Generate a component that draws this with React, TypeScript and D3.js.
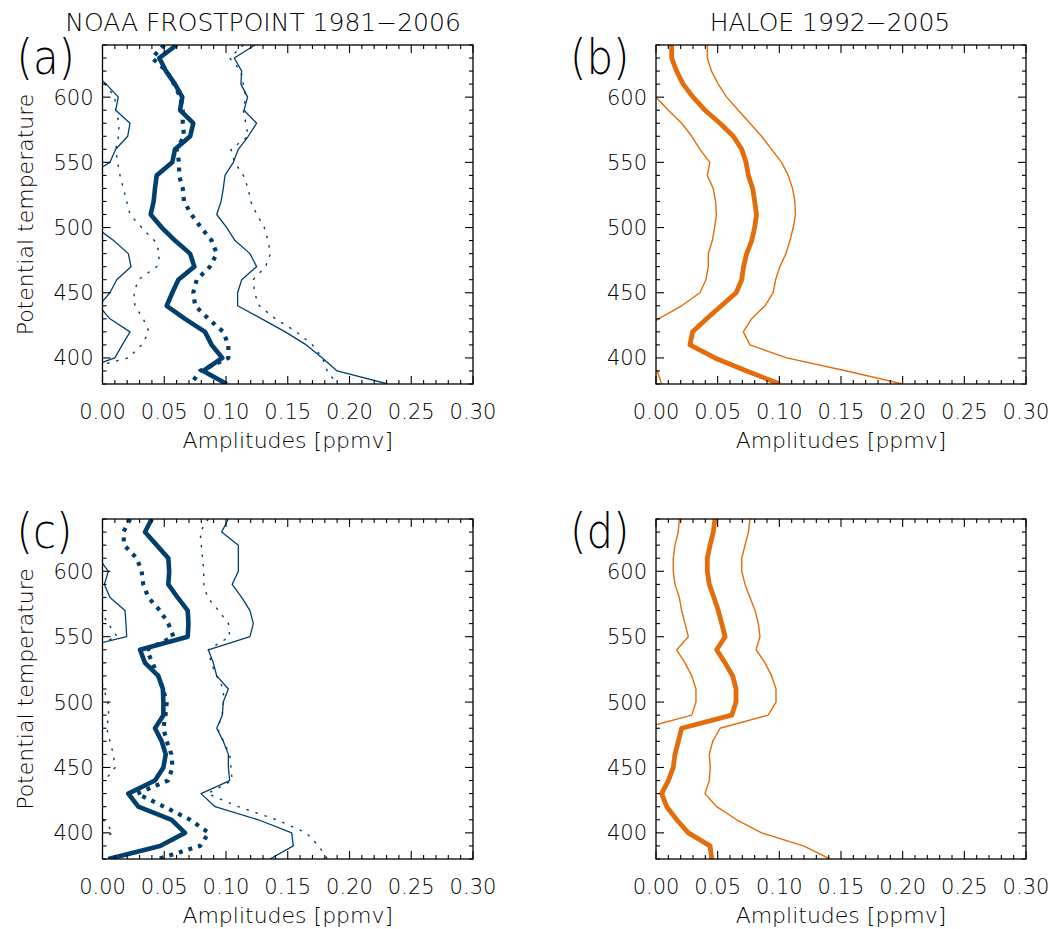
import React from 'react';
import * as d3 from 'd3';

// Potential temperature levels (K), top to bottom
const levels = [640, 630, 620, 610, 600, 590, 580, 570, 560, 550, 540, 530, 520, 510, 500, 490, 480, 470, 460, 450, 440, 430, 420, 410, 400, 390, 380];

const xTickLabels = ['0.00', '0.05', '0.10', '0.15', '0.20', '0.25', '0.30'];
const yTickLabels = [400, 450, 500, 550, 600];

// Panel (a) NOAA frostpoint
const aThick = [0.060, 0.046, 0.0514, 0.0587, 0.0646, 0.0628, 0.0735, 0.071, 0.0587, 0.0565, 0.0439, 0.0425, 0.0414, 0.039, 0.048, 0.0587, 0.0709, 0.0744, 0.0614, 0.0565, 0.052, 0.0668, 0.083, 0.0884, 0.097, 0.0816, 0.1006];
const aHi = [0.1235, 0.1067, 0.1127, 0.1121, 0.1175, 0.1146, 0.1248, 0.118, 0.11, 0.1059, 0.0992, 0.0978, 0.096, 0.0925, 0.1006, 0.1073, 0.1194, 0.1248, 0.1127, 0.1094, 0.1094, 0.129, 0.148, 0.165, 0.178, 0.19, 0.231];
const aLo = [-0.003, -0.015, -0.010, 0.003, 0.0128, 0.0107, 0.0223, 0.0204, 0.0107, 0.006, -0.011, -0.013, -0.013, -0.0145, -0.005, 0.009, 0.0209, 0.0231, 0.0115, 0.006, -0.003, 0.006, 0.0223, 0.016, 0.010, -0.02, -0.03];
const aThickDot = [0.050, 0.040, 0.052, 0.058, 0.063, 0.065, 0.065, 0.066, 0.060, 0.062, 0.062, 0.065, 0.066, 0.072, 0.0798, 0.0884, 0.0925, 0.087, 0.0763, 0.0735, 0.075, 0.0857, 0.0978, 0.1019, 0.1019, 0.079, 0.0717];
const aDotHi = [0.114, 0.103, 0.112, 0.114, 0.116, 0.114, 0.116, 0.118, 0.104, 0.107, 0.114, 0.118, 0.120, 0.125, 0.131, 0.134, 0.136, 0.132, 0.122, 0.123, 0.127, 0.14, 0.157, 0.17, 0.178, 0.182, 0.19];
const aDotLo = [-0.014, -0.023, -0.008, 0.002, 0.0101, 0.0107, 0.0134, 0.013, 0.0107, 0.0123, 0.0142, 0.0169, 0.0196, 0.0223, 0.0317, 0.042, 0.0466, 0.0439, 0.029, 0.0255, 0.0263, 0.033, 0.0377, 0.0317, 0.0209, -0.02, -0.045];

// Panel (b) HALOE
const bThick = [0.0127, 0.0127, 0.0167, 0.022, 0.030, 0.0397, 0.0519, 0.0627, 0.0695, 0.073, 0.0749, 0.0784, 0.080, 0.0815, 0.080, 0.0776, 0.0735, 0.071, 0.0695, 0.065, 0.053, 0.041, 0.0297, 0.0275, 0.0478, 0.0735, 0.1004];
const bHi = [0.0416, 0.0416, 0.045, 0.0505, 0.0573, 0.0667, 0.0762, 0.0856, 0.0937, 0.1018, 0.1072, 0.1107, 0.1126, 0.1131, 0.1113, 0.1086, 0.1054, 0.1004, 0.097, 0.095, 0.0884, 0.0775, 0.0708, 0.0762, 0.106, 0.1546, 0.2];
const bLo = [-0.016, -0.016, -0.012, -0.006, 0.0, 0.010, 0.0208, 0.029, 0.0356, 0.0437, 0.0416, 0.0464, 0.0483, 0.049, 0.0475, 0.0457, 0.0424, 0.0424, 0.0405, 0.0356, 0.0208, 0.002, -0.011, -0.021, -0.011, 0.001, 0.0046];

// Panel (c) NOAA frostpoint
const cThick = [0.0398, 0.0344, 0.0439, 0.0533, 0.054, 0.0533, 0.0608, 0.069, 0.0696, 0.069, 0.0304, 0.0344, 0.0452, 0.0489, 0.0493, 0.0493, 0.0425, 0.0479, 0.0512, 0.0493, 0.0425, 0.0209, 0.029, 0.056, 0.0668, 0.0466, 0.0047];
const cHi = [0.1019, 0.0965, 0.11, 0.11, 0.11, 0.105, 0.1127, 0.1194, 0.1221, 0.1194, 0.0857, 0.0897, 0.0925, 0.1019, 0.0978, 0.097, 0.0925, 0.0978, 0.1019, 0.1019, 0.103, 0.0798, 0.0911, 0.1262, 0.1532, 0.1545, 0.1356];
const cLo = [-0.022, -0.028, -0.022, -0.003, 0.0047, 0.0015, 0.0061, 0.0182, 0.019, 0.0196, -0.025, -0.021, -0.004, -0.005, -0.004, -0.004, -0.008, -0.004, -0.004, -0.004, -0.018, -0.038, -0.033, -0.014, -0.02, -0.06, -0.126];
const cThickDot = [0.0223, 0.0169, 0.0175, 0.0277, 0.0317, 0.033, 0.0371, 0.0466, 0.0533, 0.0574, 0.0358, 0.0404, 0.045, 0.049, 0.052, 0.051, 0.0493, 0.052, 0.0558, 0.0567, 0.053, 0.028, 0.05, 0.071, 0.086, 0.079, 0.045];
const cDotHi = [0.0857, 0.079, 0.080, 0.081, 0.082, 0.082, 0.085, 0.094, 0.102, 0.103, 0.0857, 0.088, 0.0925, 0.098, 0.098, 0.097, 0.093, 0.098, 0.103, 0.104, 0.105, 0.085, 0.11, 0.141, 0.165, 0.175, 0.182];
const cDotLo = [-0.041, -0.045, -0.045, -0.026, -0.019, -0.016, -0.011, -0.002, 0.0047, 0.0118, -0.014, -0.007, -0.002, 0.001, 0.0044, 0.005, 0.0034, 0.0061, 0.0088, 0.0101, 0.002, -0.03, -0.01, 0.0007, 0.0088, -0.017, -0.09];

// Panel (d) HALOE
const dThick = [0.0478, 0.0465, 0.0438, 0.0416, 0.0416, 0.0432, 0.047, 0.0505, 0.0533, 0.056, 0.0492, 0.056, 0.0622, 0.0649, 0.0649, 0.0614, 0.0208, 0.0181, 0.0154, 0.014, 0.010, 0.0046, 0.0087, 0.0168, 0.0262, 0.0438, 0.0452];
const dHi = [0.0762, 0.0749, 0.0722, 0.0695, 0.0695, 0.0722, 0.0762, 0.0803, 0.083, 0.0843, 0.0811, 0.0884, 0.0938, 0.0973, 0.0973, 0.091, 0.0519, 0.046, 0.0432, 0.044, 0.0432, 0.0397, 0.0492, 0.0654, 0.0857, 0.1195, 0.141];
const dLo = [0.0189, 0.018, 0.0154, 0.014, 0.014, 0.0154, 0.0189, 0.0208, 0.0235, 0.0262, 0.0168, 0.0235, 0.029, 0.0324, 0.0324, 0.029, -0.0103, -0.0098, -0.0124, -0.016, -0.023, -0.0305, -0.032, -0.032, -0.033, -0.032, -0.05];

const BLUE = '#003f6e';
const ORANGE = '#e46c0a';
const FONT = "'DejaVu Sans', sans-serif";
const FW = 200;

type Series = { values: number[]; color: string; width: number; dash?: string };

type PanelProps = {
  id: string;
  left: number;
  top: number;
  width: number;
  height: number;
  label: string;
  series: Series[];
  showYTitle: boolean;
};

function Panel({ id, left, top, width, height, label, series, showYTitle }: PanelProps) {
  const x = d3.scaleLinear().domain([0, 0.3]).range([0, width]);
  const y = d3.scaleLinear().domain([380, 640]).range([height, 0]);
  const line = d3
    .line<number>()
    .x((v) => x(v))
    .y((_, i) => y(levels[i]));

  const xTicks = d3.range(0, 31).map((k) => k / 100);
  const yTicks = d3.range(380, 641, 10);
  const clipId = `clip-${id}`;

  return (
    <g transform={`translate(${left},${top})`}>
      <defs>
        <clipPath id={clipId}>
          <rect x={0} y={0} width={width} height={height} />
        </clipPath>
      </defs>
      <g clipPath={`url(#${clipId})`}>
        {series.map((s, i) => (
          <path
            key={i}
            d={line(s.values) || ''}
            fill="none"
            stroke={s.color}
            strokeWidth={s.width}
            strokeDasharray={s.dash}
            strokeLinejoin="round"
          />
        ))}
      </g>
      <rect x={0} y={0} width={width} height={height} fill="none" stroke="#000" strokeWidth={1.3} />
      {xTicks.map((t, i) => {
        const major = i % 5 === 0;
        const len = major ? 8 : 4;
        const xx = x(t);
        return (
          <g key={`xt${i}`} stroke="#000" strokeWidth={1.1}>
            <line x1={xx} x2={xx} y1={height} y2={height - len} />
            <line x1={xx} x2={xx} y1={0} y2={len} />
          </g>
        );
      })}
      {yTicks.map((t, i) => {
        const major = t % 50 === 0;
        const len = major ? 8 : 4;
        const yy = y(t);
        return (
          <g key={`yt${i}`} stroke="#000" strokeWidth={1.1}>
            <line x1={0} x2={len} y1={yy} y2={yy} />
            <line x1={width} x2={width - len} y1={yy} y2={yy} />
          </g>
        );
      })}
      {xTickLabels.map((lab) => (
        <text
          key={`xl${lab}`}
          x={x(parseFloat(lab))}
          y={height + 35}
          textAnchor="middle"
          fontFamily={FONT}
          fontWeight={FW}
          fontSize={21}
          fill="#000"
        >
          {lab}
        </text>
      ))}
      {yTickLabels.map((v) => (
        <text
          key={`yl${v}`}
          x={-9}
          y={y(v)}
          dy="0.36em"
          textAnchor="end"
          fontFamily={FONT}
          fontWeight={FW}
          fontSize={21}
          fill="#000"
        >
          {v}
        </text>
      ))}
      <text
        x={width / 2}
        y={height + 64}
        textAnchor="middle"
        fontFamily={FONT}
        fontWeight={FW}
        fontSize={22}
        fill="#000"
      >
        Amplitudes [ppmv]
      </text>
      {showYTitle && (
        <text
          transform={`translate(${33 - left},${height / 2}) rotate(-90)`}
          textAnchor="middle"
          fontFamily={FONT}
          fontWeight={FW}
          fontSize={22}
          fill="#000"
        >
          Potential temperature
        </text>
      )}
      <text
        transform={`translate(-86,${29}) scale(1,1.15)`}
        fontFamily={FONT}
        fontWeight={FW}
        fontSize={42}
        fill="#000"
      >
        {label}
      </text>
    </g>
  );
}

export default function App() {
  const blueSeries = (thick: number[], hi: number[], lo: number[], td: number[], dhi: number[], dlo: number[]): Series[] => [
    { values: lo, color: BLUE, width: 1.3 },
    { values: hi, color: BLUE, width: 1.3 },
    { values: dlo, color: BLUE, width: 1.4, dash: '2.5,7' },
    { values: dhi, color: BLUE, width: 1.4, dash: '2.5,7' },
    { values: td, color: BLUE, width: 4.2, dash: '4,6' },
    { values: thick, color: BLUE, width: 4.6 },
  ];
  const orangeSeries = (thick: number[], hi: number[], lo: number[]): Series[] => [
    { values: lo, color: ORANGE, width: 1.4 },
    { values: hi, color: ORANGE, width: 1.4 },
    { values: thick, color: ORANGE, width: 4.8 },
  ];

  return (
    <svg width={1053} height={929} style={{ display: 'block', position: 'absolute', left: 0, top: 0, background: '#fff' }}>
      <rect x={0} y={0} width={1053} height={929} fill="#fff" />
      <text x={263} y={31} textAnchor="middle" fontFamily={FONT} fontWeight={FW} fontSize={25} fill="#000">
        NOAA FROSTPOINT 1981−2006
      </text>
      <text x={830} y={31} textAnchor="middle" fontFamily={FONT} fontWeight={FW} fontSize={25} fill="#000">
        HALOE 1992−2005
      </text>
      <Panel id="a" left={102.5} top={45} width={370.5} height={339} label="(a)" showYTitle
        series={blueSeries(aThick, aHi, aLo, aThickDot, aDotHi, aDotLo)} />
      <Panel id="b" left={656} top={45} width={370} height={339} label="(b)" showYTitle={false}
        series={orangeSeries(bThick, bHi, bLo)} />
      <Panel id="c" left={102.5} top={519} width={370.5} height={340} label="(c)" showYTitle
        series={blueSeries(cThick, cHi, cLo, cThickDot, cDotHi, cDotLo)} />
      <Panel id="d" left={656} top={519} width={370} height={340} label="(d)" showYTitle={false}
        series={orangeSeries(dThick, dHi, dLo)} />
    </svg>
  );
}
